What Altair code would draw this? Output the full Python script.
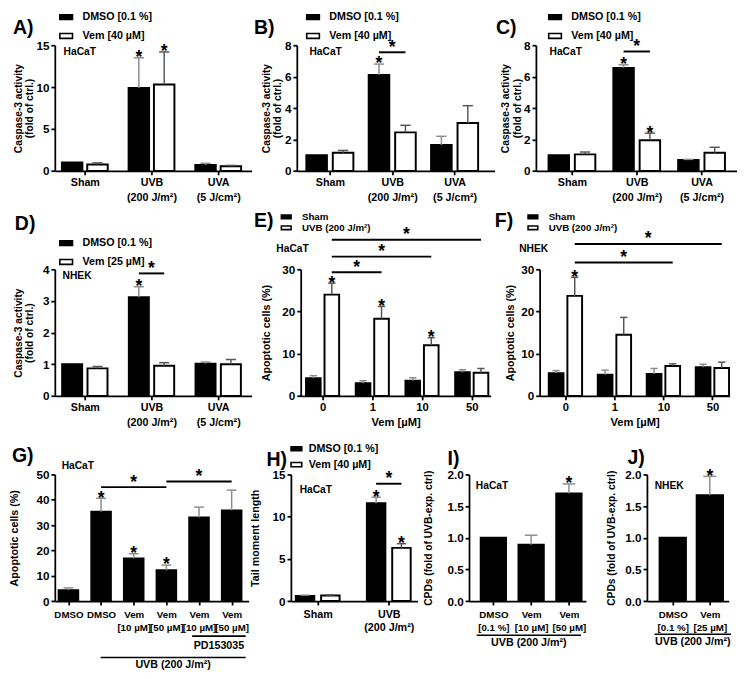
import json
import altair as alt
import pandas as pd

S = 0.978
FONT = "Liberation Sans"


def px(v):
    return v * S


# ---------------- data ----------------
caspase_cats = ["Sham", "UVB\n(200 J/m²)", "UVA\n(5 J/cm²)"]
vem_doses = ["0", "1", "10", "50"]
g_cats = ["DMSO", "DMSO", "Vem\n[10 µM]", "Vem\n[50 µM]", "Vem\n[10 µM]", "Vem\n[50 µM]"]
h_cats = ["Sham", "UVB\n(200 J/m²)"]
i_cats = ["DMSO\n[0.1 %]", "Vem\n[10 µM]", "Vem\n[50 µM]"]
j_cats = ["DMSO\n[0.1 %]", "Vem\n[25 µM]"]

leg_dmso = "DMSO [0.1 %]"
leg_vem40 = "Vem [40 µM]"
leg_vem25 = "Vem [25 µM]"
leg_sham = "Sham"
leg_uvb = "UVB (200 J/m²)"

a_dmso = [1.0, 9.9, 0.7]
a_dmso_err = [0.0, 3.6, 0.2]
a_vem = [0.75, 10.3, 0.55]
a_vem_err = [0.2, 3.9, 0.1]

b_dmso = [1.0, 6.1, 1.65]
b_dmso_err = [0.0, 0.7, 0.55]
b_vem = [1.15, 2.45, 3.05]
b_vem_err = [0.15, 0.45, 1.1]

c_dmso = [1.0, 6.55, 0.7]
c_dmso_err = [0.0, 0.2, 0.03]
c_vem = [1.05, 1.95, 1.15]
c_vem_err = [0.15, 0.45, 0.35]

d_dmso = [1.0, 3.12, 1.02]
d_dmso_err = [0.0, 0.33, 0.05]
d_vem = [0.87, 0.95, 1.0]
d_vem_err = [0.06, 0.1, 0.15]

e_sham = [4.2, 3.0, 3.6, 5.6]
e_sham_err = [0.6, 0.6, 0.7, 0.6]
e_uvb = [24.0, 18.3, 12.0, 5.5]
e_uvb_err = [2.7, 2.9, 1.8, 1.0]

f_sham = [5.4, 5.0, 5.2, 6.8]
f_sham_err = [0.6, 1.1, 1.3, 0.7]
f_uvb = [23.7, 14.5, 7.1, 6.6]
f_uvb_err = [4.4, 4.1, 0.5, 1.4]

g_vals = [4.3, 35.3, 16.8, 12.2, 33.0, 35.8]
g_err = [0.9, 5.3, 1.9, 2.0, 4.1, 8.0]

h_dmso = [0.6, 11.6]
h_dmso_err = [0.1, 0.7]
h_vem = [0.65, 6.3]
h_vem_err = [0.08, 0.5]

i_vals = [1.0, 0.89, 1.70]
i_err = [0.0, 0.15, 0.15]

j_vals = [1.0, 1.67]
j_err = [0.0, 0.30]

# significance marks: (category, series) and brackets ((c1,s1),(c2,s2), level)
a_stars = [(1, 0), (1, 1)]
b_stars = [(1, 0)]
b_brackets = [((1, 0), (1, 1), 7.55)]
c_stars = [(1, 0), (1, 1)]
c_brackets = [((1, 0), (1, 1), 7.6)]
d_stars = [(1, 0)]
d_brackets = [((1, 0), (1, 1), 3.87)]
e_stars = [(0, 1), (1, 1), (2, 1)]
e_brackets = [((0, 1), (1, 1), 29.3), ((0, 1), (2, 1), 33.0), ((0, 1), (3, 1), 37.0)]
f_stars = [(0, 1)]
f_brackets = [((0, 1), (2, 1), 31.6), ((0, 1), (3, 1), 36.0)]
g_stars = [(1, 0), (2, 0), (3, 0)]
g_brackets = [((1, 0), (3, 0), 45.0), ((3, 0), (5, 0), 47.2)]
h_stars = [(1, 0), (1, 1)]
h_brackets = [((1, 0), (1, 1), 13.9)]
i_stars = [(2, 0)]
j_stars = [(1, 0)]

ERR_COLORS = ["#8c8c8c", "#555555"]
SYM = "M-1,-0.38H1V0.38H-1Z"


def build(cfg):
    W = px(cfg["w"])
    H = px(cfg["h"])
    cats = cfg["cats"]
    n = len(cats)
    vals = cfg["vals"]
    errs = cfg["errs"]
    ns = len(vals)
    series = cfg.get("series") or ["bars"]
    bw = cfg["bw"]
    gp = cfg.get("gp", 0.0)

    def center(c, s):
        return c + (s - (ns - 1) / 2) * (bw + gp)

    rows = []
    for s in range(ns):
        for c in range(n):
            cx = center(c, s)
            v = vals[s][c]
            e = errs[s][c]
            rows.append(dict(series=series[s], cat=c, s=s, cx=cx, x1=cx - bw / 2, x2=cx + bw / 2,
                             v=v, e=e, top=v + e, zero=0.0, cap1=cx - bw / 4, cap2=cx + bw / 4,
                             ecol=ERR_COLORS[s], star=(c, s) in cfg.get("stars", [])))
    df = pd.DataFrame(rows)

    sx = alt.Scale(domain=[cfg["xlo"], cfg["xhi"]], nice=False, zero=False)
    sy = alt.Scale(domain=[0, cfg["ymax"]], nice=False, zero=False)
    lab = json.dumps([c.split("\n") for c in cats], ensure_ascii=False)
    xk = dict(values=list(range(n)), labelExpr=lab + "[datum.value]",
              labelFontSize=px(cfg.get("xls", 11)), labelLineHeight=px(cfg.get("xlh", 14)),
              labelPadding=px(cfg.get("xlp", 3)), labelFlush=False, labelOverlap=False,
              tickSize=px(4))
    if cfg.get("xtitle"):
        xk.update(title=cfg["xtitle"], titleFontSize=px(11.5), titlePadding=px(4))
    else:
        xk.update(title=None)
    xax = alt.Axis(**xk)
    yax = alt.Axis(values=cfg["yticks"], format=cfg.get("yfmt", "d"), title=cfg["ytitle"],
                   titleFontSize=px(cfg["yts"]), titleLineHeight=px(cfg["yts"] * 1.1),
                   titlePadding=px(cfg.get("ytp", 2)), labelFontSize=px(12),
                   labelPadding=px(2), tickSize=px(4))

    def X(f):
        return alt.X(f"{f}:Q", scale=sx, axis=xax)

    def Y(f):
        return alt.Y(f"{f}:Q", scale=sy, axis=yax)

    if ns == 2:
        lg = cfg["legend"]
        fill = alt.Fill("series:N",
                        scale=alt.Scale(domain=series, range=["black", "white"]),
                        legend=alt.Legend(orient="none", legendX=px(lg["x"]), legendY=px(lg["y"]),
                                          title=None, direction="vertical", symbolType=SYM,
                                          symbolSize=px(lg["w"]) ** 2, symbolStrokeColor="black",
                                          symbolStrokeWidth=px(1.6), labelFont=FONT,
                                          labelFontSize=px(lg["fs"]), labelFontWeight="bold",
                                          labelColor="black", labelOffset=px(lg["off"]),
                                          rowPadding=px(lg["rp"]), padding=0))
    else:
        fill = alt.value("black")

    layers = []
    layers.append(alt.Chart(df).mark_bar(stroke="black", strokeWidth=px(2)).encode(
        x=X("x1"), x2="x2", y=Y("v"), y2="zero", fill=fill))
    edf = df[df["e"] > 0]
    layers.append(alt.Chart(edf).mark_rule(strokeWidth=px(1.5)).encode(
        x=X("cx"), y=Y("v"), y2="top", color=alt.Color("ecol:N", scale=None)))
    layers.append(alt.Chart(edf).mark_rule(strokeWidth=px(1.5)).encode(
        x=X("cap1"), x2="cap2", y=Y("top"), color=alt.Color("ecol:N", scale=None)))
    sdf = df[df["star"]]
    if len(sdf):
        layers.append(alt.Chart(sdf).mark_text(text="*", font=FONT, fontSize=px(18), fontWeight="bold",
                                               baseline="alphabetic", dy=px(5.5), color="black").encode(
            x=X("cx"), y=Y("top")))
    br = cfg.get("brackets", [])
    if br:
        bdf = pd.DataFrame([dict(bx1=center(*a), bx2=center(*b), by=lv,
                                 bm=(center(*a) + center(*b)) / 2) for a, b, lv in br])
        layers.append(alt.Chart(bdf).mark_rule(strokeWidth=px(2), color="black").encode(
            x=X("bx1"), x2="bx2", y=Y("by")))
        layers.append(alt.Chart(bdf).mark_text(text="*", font=FONT, fontSize=px(18), fontWeight="bold",
                                               baseline="alphabetic", dy=px(0.5), color="black").encode(
            x=X("bm"), y=Y("by")))
    for u in cfg.get("under", []):
        udf = pd.DataFrame([dict(u1=u[0], u2=u[1], um=(u[0] + u[1]) / 2, t=u[4])])
        layers.append(alt.Chart(udf).mark_rule(strokeWidth=px(1.6), color="black").encode(
            x=X("u1"), x2="u2", y=alt.value(px(u[2]))))
        layers.append(alt.Chart(udf).mark_text(font=FONT, fontSize=px(11), fontWeight="bold",
                                               baseline="middle", align="center", color="black").encode(
            x=X("um"), y=alt.value(px(u[3])), text="t:N"))
    lt = cfg["letter"]
    layers.append(alt.Chart(pd.DataFrame({"t": [lt[0]]})).mark_text(
        font=FONT, fontSize=px(20), fontWeight="bold", align="left", baseline="middle", color="black").encode(
        text="t:N", x=alt.value(px(lt[1])), y=alt.value(px(lt[2]))))
    cl = cfg["cell"]
    layers.append(alt.Chart(pd.DataFrame({"t": [cl[0]]})).mark_text(
        font=FONT, fontSize=px(10.5), fontWeight="bold", align="left", baseline="middle", color="black").encode(
        text="t:N", x=alt.value(px(cl[1])), y=alt.value(px(cl[2]))))
    sp = cfg.get("spacer")
    if sp:
        top = sp[0] if sp[0] is not None else 0
        bot = cfg["h"] + sp[1] if sp[1] is not None else cfg["h"]
        layers.append(alt.Chart(pd.DataFrame({"k": [0]})).mark_rule(opacity=0, strokeWidth=0.5).encode(
            x=alt.value(px(-44.5)), y=alt.value(px(top)), y2=alt.value(px(bot))))
    return alt.layer(*layers).properties(width=W, height=H)


casp_title = ["Caspase-3 activity", "(fold of ctrl.)"]
leg_big = dict(w=13, fs=11, off=9, rp=5)

A = build(dict(letter=("A)", -43, -18), w=202, h=129, xlo=-0.45, xhi=2.5, cats=caspase_cats,
               series=[leg_dmso, leg_vem40], vals=[a_dmso, a_vem], errs=[a_dmso_err, a_vem_err],
               bw=0.307, gp=0.073, ymax=15, yticks=[0, 5, 10, 15], ytitle=casp_title, yts=10.5, ytp=1.5,
               cell=("HaCaT", 9, 7), legend=dict(leg_big, x=4, y=-36.5), stars=a_stars, xlh=15,
               spacer=(None, 38)))
B = build(dict(letter=("B)", -44, -18), w=203, h=129, xlo=-0.53, xhi=2.64, cats=caspase_cats,
               series=[leg_dmso, leg_vem40], vals=[b_dmso, b_vem], errs=[b_dmso_err, b_vem_err],
               bw=0.33, gp=0.094, ymax=8, yticks=[0, 2, 4, 6, 8], ytitle=casp_title, yts=10.5, ytp=1.5,
               cell=("HaCaT", 13, 7), legend=dict(leg_big, x=9, y=-36.5), stars=b_stars,
               brackets=b_brackets, xlh=15))
C = build(dict(letter=("C)", -41, -18), w=206, h=129, xlo=-0.556, xhi=2.54, cats=caspase_cats,
               series=[leg_dmso, leg_vem40], vals=[c_dmso, c_vem], errs=[c_dmso_err, c_vem_err],
               bw=0.316, gp=0.09, ymax=8, yticks=[0, 2, 4, 6, 8], ytitle=casp_title, yts=10.5, ytp=1.5,
               cell=("HaCaT", 14, 7), legend=dict(leg_big, x=12, y=-36.5), stars=c_stars,
               brackets=c_brackets, xlh=15))
D = build(dict(letter=("D)", -41, -46), w=202, h=130, xlo=-0.45, xhi=2.5, cats=caspase_cats,
               series=[leg_dmso, leg_vem25], vals=[d_dmso, d_vem], errs=[d_dmso_err, d_vem_err],
               bw=0.3, gp=0.08, ymax=4, yticks=[0, 1, 2, 3, 4], ytitle=casp_title, yts=10.5, ytp=8,
               cell=("NHEK", 8, 7), legend=dict(leg_big, x=4, y=-34.5), stars=d_stars,
               brackets=d_brackets, xlh=15, spacer=(-62, 39)))
leg_small = dict(w=10, fs=10, off=10, rp=0)
E = build(dict(letter=("E)", -48, -50), w=195, h=130, xlo=-0.44, xhi=3.38, cats=vem_doses,
               series=[leg_sham, leg_uvb], vals=[e_sham, e_uvb], errs=[e_sham_err, e_uvb_err],
               bw=0.294, gp=0.078, ymax=30, yticks=[0, 10, 20, 30], ytitle="Apoptotic cells (%)",
               yts=11, ytp=11, cell=("HaCaT", -25, -21), legend=dict(leg_small, x=-21, y=-60),
               stars=e_stars, brackets=e_brackets, xtitle="Vem [µM]", xls=11.5, xlp=2))
F = build(dict(letter=("F)", -46, -50), w=195, h=130, xlo=-0.527, xhi=3.35, cats=vem_doses,
               series=[leg_sham, leg_uvb], vals=[f_sham, f_uvb], errs=[f_sham_err, f_uvb_err],
               bw=0.30, gp=0.08, ymax=30, yticks=[0, 10, 20, 30], ytitle="Apoptotic cells (%)",
               yts=11, ytp=5, cell=("NHEK", -21, -21), legend=dict(leg_small, x=-13, y=-60),
               stars=f_stars, brackets=f_brackets, xtitle="Vem [µM]", xls=11.5, xlp=2))
G = build(dict(letter=("G)", -44, -19), w=199, h=130, xlo=-0.418, xhi=5.52, cats=g_cats,
               vals=[g_vals], errs=[g_err], bw=0.6, ymax=50, yticks=[0, 10, 20, 30, 40, 50],
               ytitle="Apoptotic cells (%)", yts=11, ytp=17, cell=("HaCaT", 7, -9),
               stars=g_stars, brackets=g_brackets, xls=10, xlh=13, xlp=5,
               under=[(0.985, 5.43, 188, 196, "UVB (200 J/m²)"), (3.79, 5.43, 166, 176, "PD153035")],
               spacer=(-40, None)))
H = build(dict(letter=("H)", -25, -15), w=130, h=130, xlo=-0.377, xhi=1.404, cats=h_cats,
               series=[leg_dmso, leg_vem40], vals=[h_dmso, h_vem], errs=[h_dmso_err, h_vem_err],
               bw=0.26, gp=0.096, ymax=15, yticks=[0, 5, 10, 15], ytitle="Tail moment length",
               yts=11, ytp=12, cell=("HaCaT", 9, 16), legend=dict(w=11, fs=11, off=6, rp=4, x=-1, y=-33),
               stars=h_stars, brackets=h_brackets, xlh=13, xlp=5))
I = build(dict(letter=("I)", -22, -16), w=120, h=130, xlo=-0.645, xhi=2.45, cats=i_cats,
               vals=[i_vals], errs=[i_err], bw=0.67, ymax=2, yticks=[0, 0.5, 1, 1.5, 2], yfmt=".1f",
               ytitle="CPDs (fold of UVB-exp. ctrl)", yts=10.5, ytp=14, cell=("HaCaT", 7, 12),
               stars=i_stars, xls=10, xlh=13, xlp=5,
               under=[(-0.44, 2.32, 165, 173, "UVB (200 J/m²)")]))
J = build(dict(letter=("J)", -20, -17), w=84, h=130, xlo=-0.697, xhi=1.51, cats=j_cats,
               vals=[j_vals], errs=[j_err], bw=0.71, ymax=2, yticks=[0, 0.5, 1, 1.5, 2], yfmt=".1f",
               ytitle="CPDs (fold of UVB-exp. ctrl)", yts=10.5, ytp=9, cell=("NHEK", 8, 12),
               stars=j_stars, xls=10, xlh=13, xlp=5,
               under=[(-0.49, 1.57, 164, 172, "UVB (200 J/m²)")]))


def hc(*charts, sp):
    return alt.hconcat(*charts, spacing=px(sp), bounds="flush").resolve_scale(
        fill="independent", color="independent")


row1 = hc(A, hc(B, C, sp=42), sp=46)
row2 = hc(D, E, F, sp=50)
row3 = hc(G, hc(H, hc(I, J, sp=62), sp=52), sp=43)
chart = alt.vconcat(row1, row2, row3, spacing=0).resolve_scale(
    fill="independent", color="independent").properties(padding=0).configure_axis(
    domainColor="black", domainWidth=px(1.8), tickColor="black", tickWidth=px(1.8),
    labelFont=FONT, labelFontWeight="bold", labelColor="black",
    titleFont=FONT, titleFontWeight="bold", titleColor="black", grid=False
).configure_view(strokeWidth=0)

chart.save("out.html", embed_options={"renderer": "svg", "actions": False})
